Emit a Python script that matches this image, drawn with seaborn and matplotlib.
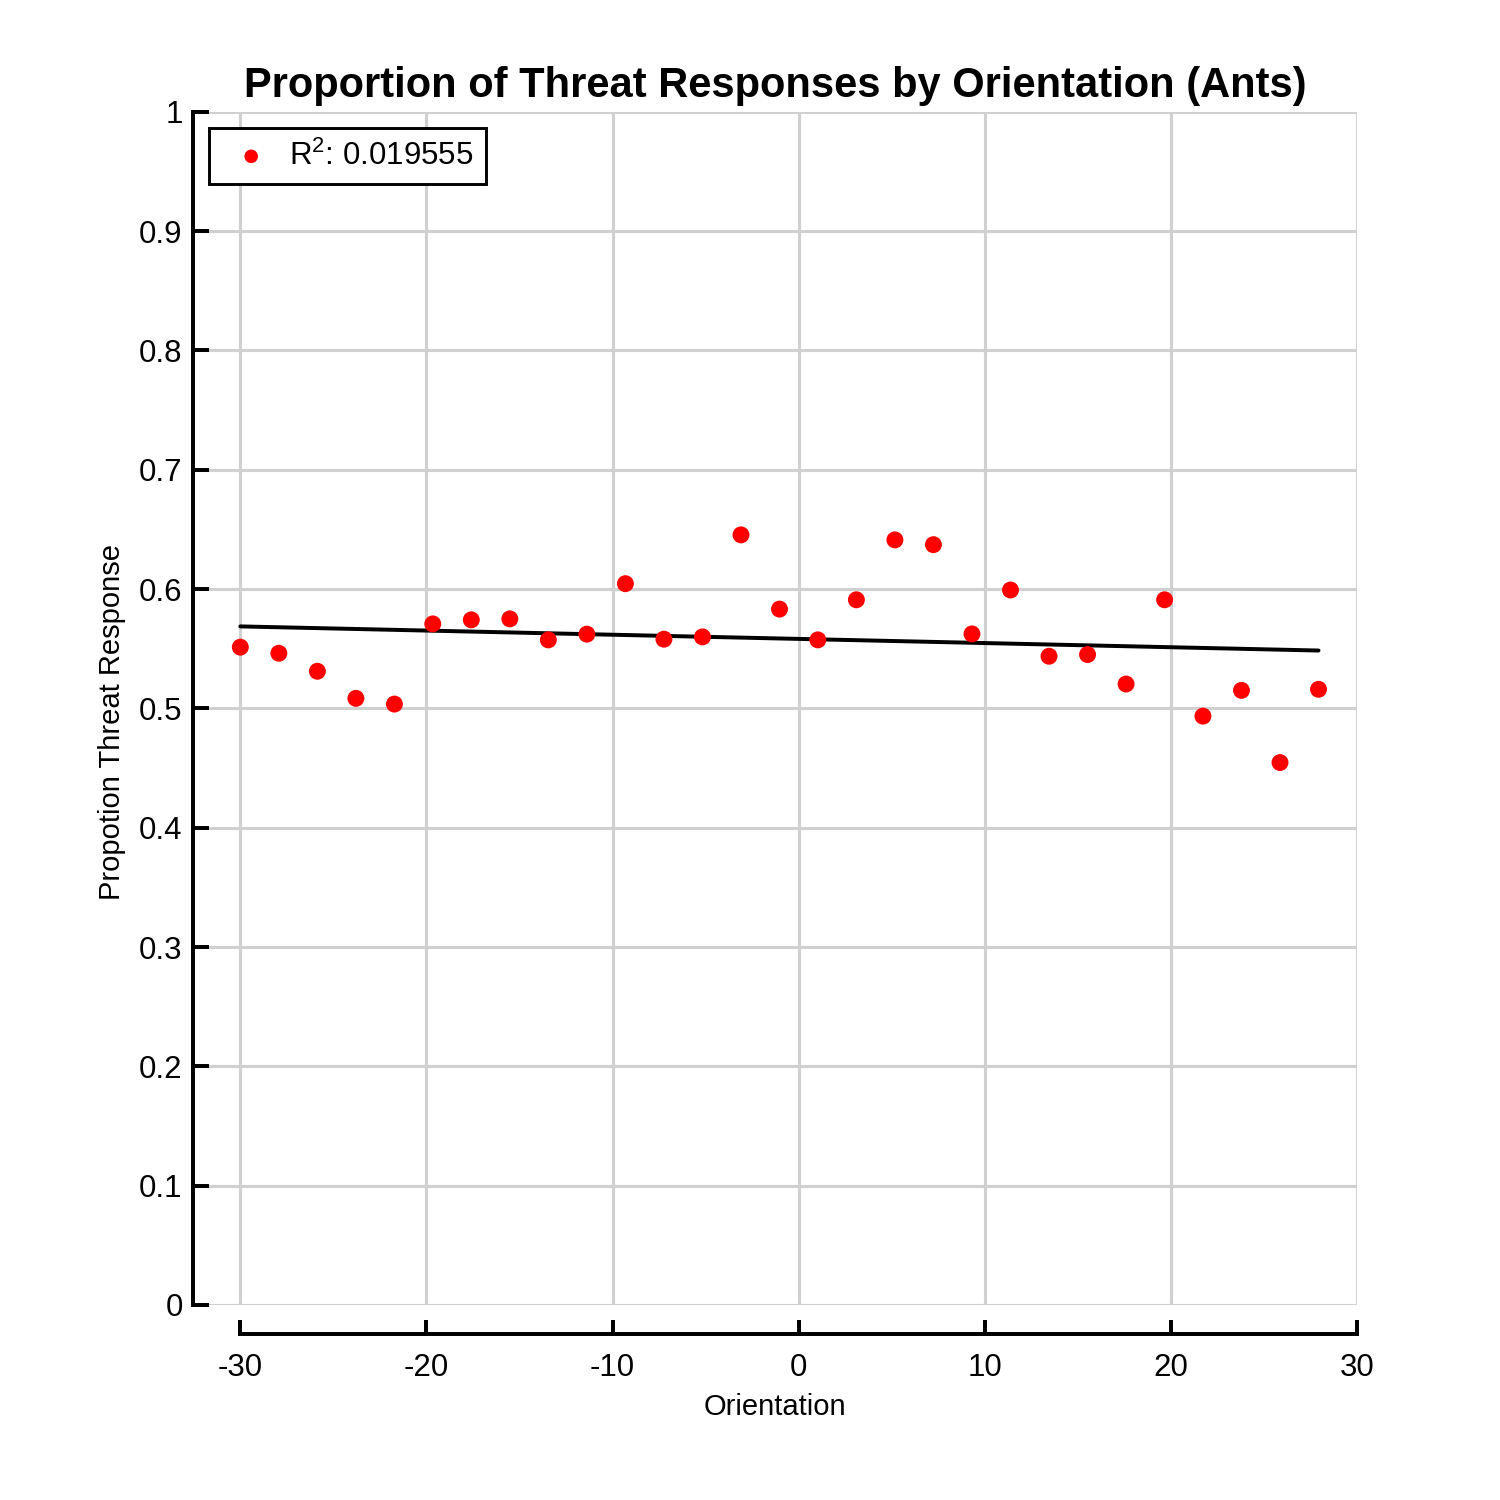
import numpy as np
import pandas as pd
import matplotlib
matplotlib.use("Agg")
import matplotlib.pyplot as plt
import seaborn as sns

# ---- data ----
orientation = [-30.00, -27.93, -25.86, -23.79, -21.72, -19.66, -17.59, -15.52, -13.45, -11.38,
               -9.31, -7.24, -5.17, -3.10, -1.03, 1.03, 3.10, 5.17, 7.24, 9.31,
               11.38, 13.45, 15.52, 17.59, 19.66, 21.72, 23.79, 25.86, 27.93]
proportion = [0.5513, 0.5462, 0.5311, 0.5084, 0.5036, 0.5708, 0.5742, 0.5750, 0.5574, 0.5622,
              0.6045, 0.5580, 0.5599, 0.6454, 0.5832, 0.5574, 0.5910, 0.6412, 0.6372, 0.5624,
              0.5992, 0.5437, 0.5451, 0.5204, 0.5910, 0.4935, 0.5151, 0.4546, 0.5160]
legend_label = "R$^2$: 0.019555"
title_text = "Proportion of Threat Responses by Orientation (Ants)"
xlabel_text = "Orientation"
ylabel_text = "Propotion Threat Response"
x_ticks = [-30, -20, -10, 0, 10, 20, 30]
x_ticklabels = ["-30", "-20", "-10", "0", "10", "20", "30"]
y_ticks = [0, 0.1, 0.2, 0.3, 0.4, 0.5, 0.6, 0.7, 0.8, 0.9, 1.0]
y_ticklabels = ["0", "0.1", "0.2", "0.3", "0.4", "0.5", "0.6", "0.7", "0.8", "0.9", "1"]

df = pd.DataFrame({"orientation": orientation, "proportion": proportion})

sns.set_theme(style="white")
plt.rcParams["font.family"] = ["Liberation Sans", "DejaVu Sans"]
plt.rcParams["mathtext.fontset"] = "custom"
plt.rcParams["mathtext.rm"] = "Liberation Sans"
plt.rcParams["mathtext.default"] = "regular"
plt.rcParams["text.color"] = "black"
plt.rcParams["axes.labelcolor"] = "black"

fig = plt.figure(figsize=(10, 10), dpi=150)
ax = fig.add_axes([0.1287, 0.13, 0.776, 0.7955])

sns.scatterplot(data=df, x="orientation", y="proportion", color="#ff0000", s=66,
                edgecolor="none", linewidth=0, label=legend_label, ax=ax, zorder=3)
sns.regplot(data=df, x="orientation", y="proportion", scatter=False, ci=None,
            color="black", line_kws=dict(color="black", lw=1.9, zorder=2), ax=ax)

ax.set_xlim(-32.54, 30)
ax.set_ylim(0, 1)
ax.set_xticks(x_ticks)
ax.set_xticklabels(x_ticklabels)
ax.set_yticks(y_ticks)
ax.set_yticklabels(y_ticklabels)

ax.grid(True, color="#d0d0d0", lw=1.5)
ax.set_axisbelow(True)

for s in ["top", "right"]:
    ax.spines[s].set_visible(False)
for s in ["left", "bottom"]:
    ax.spines[s].set_color("black")
    ax.spines[s].set_linewidth(1.9)
ax.spines["bottom"].set_position(("outward", 13.9))
ax.spines["bottom"].set_bounds(-30, 30)

ax.tick_params(axis="x", direction="in", length=6.7, width=1.9, color="black",
               labelsize=15, pad=9, labelcolor="black", bottom=True)
ax.tick_params(axis="y", direction="in", length=7.7, width=1.9, color="black",
               labelsize=15, pad=5, labelcolor="black", left=True)

ax.set_title(title_text, fontsize=20, fontweight="bold", pad=7, color="black")
ax.set_xlabel(xlabel_text, fontsize=14, color="black")
ax.set_ylabel(ylabel_text, fontsize=14, color="black")
ax.xaxis.set_label_coords(0.5, -0.0738)
ax.yaxis.set_label_coords(-0.0576, 0.489)

leg = ax.legend(loc="upper left", bbox_to_anchor=(0.0137, 0.9866), borderaxespad=0,
                fancybox=False, frameon=True, edgecolor="black", fontsize=15,
                markerscale=0.8, handletextpad=0.25, borderpad=0.4, handlelength=1.9,
                labelcolor="black")
leg.get_frame().set_linewidth(1.4)
leg.get_frame().set_alpha(1)

fig.savefig("out.png", dpi=150, facecolor="white")
